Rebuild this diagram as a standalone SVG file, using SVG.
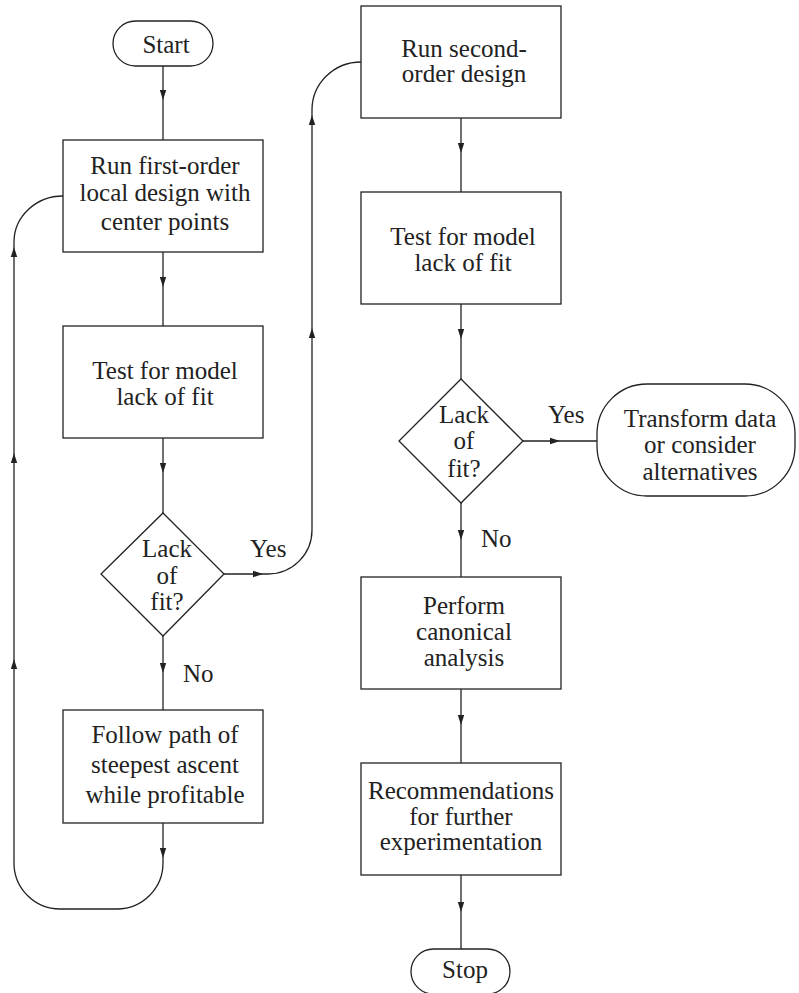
<svg xmlns="http://www.w3.org/2000/svg" width="799" height="993" viewBox="0 0 799 993">
<defs>
<style>
.n{fill:#fff;stroke:#222;stroke-width:1.3}
.c{fill:none;stroke:#222;stroke-width:1.3}
text{font-size:25px;fill:#222;text-anchor:middle}
.l{text-anchor:start}
.ah{fill:#222}
</style>
<path id="ad" class="ah" d="M0,0 L-3.2,-10 L3.2,-10 Z"/>
<path id="au" class="ah" d="M0,0 L-3.2,10 L3.2,10 Z"/>
<path id="ar" class="ah" d="M0,0 L-10,-3.2 L-10,3.2 Z"/>
</defs>
<rect width="799" height="993" fill="#fff"/>
<g font-family="Liberation Serif, Times New Roman, Times, DejaVu Serif, serif">
<g id="connectors">
<path class="c" d="M163,66 L163,140"/>
<path class="c" d="M163,252 L163,326"/>
<path class="c" d="M163,438 L163,513"/>
<path class="c" d="M163,636 L163,710"/>
<path class="c" d="M163,823 L163,863 A46,46 0 0 1 117,909 L60,909 A46,46 0 0 1 14,863 L14,242 A49,46 0 0 1 63,196"/>
<path class="c" d="M224,574 L268,574 A44,44 0 0 0 312,530 L312,110 A49,48 0 0 1 361,62"/>
<path class="c" d="M461,118 L461,192"/>
<path class="c" d="M461,304 L461,379"/>
<path class="c" d="M523,441 L597,441"/>
<path class="c" d="M461,503 L461,577"/>
<path class="c" d="M461,689 L461,763"/>
<path class="c" d="M461,875 L461,949"/>
<use href="#ad" x="163" y="100"/>
<use href="#ad" x="163" y="287"/>
<use href="#ad" x="163" y="473"/>
<use href="#ad" x="163" y="673"/>
<use href="#ad" x="163" y="858"/>
<use href="#au" x="14" y="247"/>
<use href="#au" x="14" y="453"/>
<use href="#au" x="14" y="659"/>
<use href="#ar" x="263" y="574"/>
<use href="#au" x="312" y="328"/>
<use href="#au" x="312" y="115"/>
<use href="#ad" x="461" y="153"/>
<use href="#ad" x="461" y="339"/>
<use href="#ar" x="560" y="441"/>
<use href="#ad" x="461" y="540"/>
<use href="#ad" x="461" y="725"/>
<use href="#ad" x="461" y="912"/>
<text class="l" x="250" y="557">Yes</text>
<text class="l" x="183" y="682">No</text>
<text class="l" x="548" y="423">Yes</text>
<text class="l" x="481" y="547">No</text>
</g>
<g id="start">
<rect class="n" x="113" y="21" width="100" height="45" rx="22.5"/>
<text x="166" y="53">Start</text>
</g>
<g id="first-order">
<rect class="n" x="63" y="140" width="200" height="112"/>
<text x="165" y="174">Run first-order</text>
<text x="165" y="201">local design with</text>
<text x="165" y="230">center points</text>
</g>
<g id="test1">
<rect class="n" x="63" y="326" width="200" height="112"/>
<text x="165" y="379">Test for model</text>
<text x="165" y="405">lack of fit</text>
</g>
<g id="decision1">
<polygon class="n" points="163,513 224,574 163,636 101,574"/>
<text x="167" y="557">Lack</text>
<text x="167" y="584">of</text>
<text x="167" y="610">fit?</text>
</g>
<g id="follow">
<rect class="n" x="63" y="710" width="200" height="113"/>
<text x="165" y="743">Follow path of</text>
<text x="165" y="773">steepest ascent</text>
<text x="165" y="803">while profitable</text>
</g>
<g id="second-order">
<rect class="n" x="361" y="6" width="200" height="112"/>
<text x="464" y="57">Run second-</text>
<text x="464" y="82">order design</text>
</g>
<g id="test2">
<rect class="n" x="361" y="192" width="200" height="112"/>
<text x="463" y="245">Test for model</text>
<text x="463" y="271">lack of fit</text>
</g>
<g id="decision2">
<polygon class="n" points="461,379 523,441 461,503 399,441"/>
<text x="464" y="423">Lack</text>
<text x="464" y="449">of</text>
<text x="464" y="477">fit?</text>
</g>
<g id="transform">
<rect class="n" x="597" y="384" width="198" height="112" rx="50"/>
<text x="700" y="427">Transform data</text>
<text x="700" y="453">or consider</text>
<text x="700" y="480">alternatives</text>
</g>
<g id="canonical">
<rect class="n" x="361" y="577" width="200" height="112"/>
<text x="464" y="614">Perform</text>
<text x="464" y="640">canonical</text>
<text x="464" y="666">analysis</text>
</g>
<g id="recommend">
<rect class="n" x="361" y="763" width="200" height="112"/>
<text x="461" y="799">Recommendations</text>
<text x="461" y="825">for further</text>
<text x="461" y="850">experimentation</text>
</g>
<g id="stop">
<rect class="n" x="411" y="949" width="99" height="45" rx="22.5"/>
<text x="465" y="978">Stop</text>
</g>
</g>
</svg>
